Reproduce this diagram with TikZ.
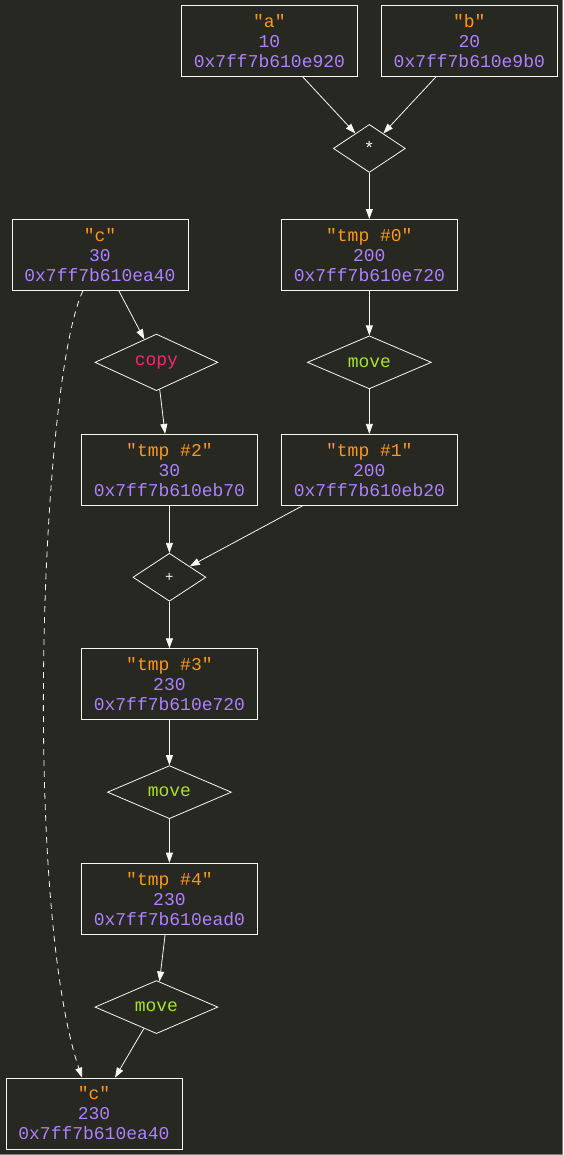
\documentclass[tikz,border=0pt]{standalone}
\usepackage{fontspec}
\setmonofont{Liberation Mono}
\usetikzlibrary{shapes.geometric,arrows.meta}
\definecolor{bg}{HTML}{272822}
\definecolor{fg}{HTML}{F8F8F2}
\definecolor{strc}{HTML}{FD971F}
\definecolor{numc}{HTML}{AE81FF}
\definecolor{movec}{HTML}{A6E22E}
\definecolor{copyc}{HTML}{F92672}
\newcommand{\valtext}[3]{{\color{strc}"#1"}\\{\color{numc}#2}\\{\color{numc}#3}}
\begin{document}
\begin{tikzpicture}[x=1pt,y=-1pt,
  font=\ttfamily\fontsize{18}{20}\selectfont,
  val/.style={draw=fg,line width=0.8pt,minimum width=176pt,minimum height=71pt,inner sep=0pt,align=center},
  op/.style={draw=fg,line width=0.8pt,diamond,minimum width=#1,minimum height=48pt,inner sep=0pt,text=fg},
  op/.default=72pt,
  edge/.style={draw=fg,line width=0.8pt,-{Triangle[length=10pt,width=7pt,fill=fg]}}]
\fill[bg] (0,0) rectangle (563,1155);
\draw[gray,line width=1pt] (562.5,0) -- (562.5,1154.5) -- (0,1154.5);

\node[val](0) at (269,40.5){\valtext{a}{10}{0x7ff7b610e920}};
\node[val](1) at (469,40.5){\valtext{b}{20}{0x7ff7b610e9b0}};
\node[op](2) at (369,148){*};
\node[val](3) at (369,254.5){\valtext{tmp \#0}{200}{0x7ff7b610e720}};
\node[val](4) at (99.5,254.5){\valtext{c}{30}{0x7ff7b610ea40}};
\node[op=123pt,text=copyc](5) at (156,362){copy};
\node[op=124pt,text=movec](6) at (369,362){move};
\node[val](7) at (169,469.5){\valtext{tmp \#2}{30}{0x7ff7b610eb70}};
\node[val](8) at (369,469.5){\valtext{tmp \#1}{200}{0x7ff7b610eb20}};
\node[op=73pt,font=\ttfamily\fontsize{14}{16}\selectfont](9) at (169,577){+};
\node[val](10) at (169,684){\valtext{tmp \#3}{230}{0x7ff7b610e720}};
\node[op=124pt,text=movec](11) at (169,792){move};
\node[val](12) at (169,898.5){\valtext{tmp \#4}{230}{0x7ff7b610ead0}};
\node[op=123pt,text=movec](13) at (156,1007){move};
\node[val](14) at (93.5,1113.5){\valtext{c}{230}{0x7ff7b610ea40}};

\draw [edge] (0) -- (2);
\draw [edge] (1) -- (2);
\draw [edge] (2) -- (3);
\draw [edge] (3) -- (6);
\draw [edge] (6) -- (8);
\draw [edge] (4) -- (5);
\draw [edge] (5) -- (7);
\draw [edge] (7) -- (9);
\draw [edge] (8) -- (9);
\draw [edge] (9) -- (10);
\draw [edge] (10) -- (11);
\draw [edge] (11) -- (12);
\draw [edge] (12) -- (13);
\draw [edge] (13) -- (14);
% c is reused at the end
\draw [edge,dash pattern=on 6pt off 5pt] (4) .. controls (40,380) and (22,900) .. (14);
\end{tikzpicture}
\end{document}
